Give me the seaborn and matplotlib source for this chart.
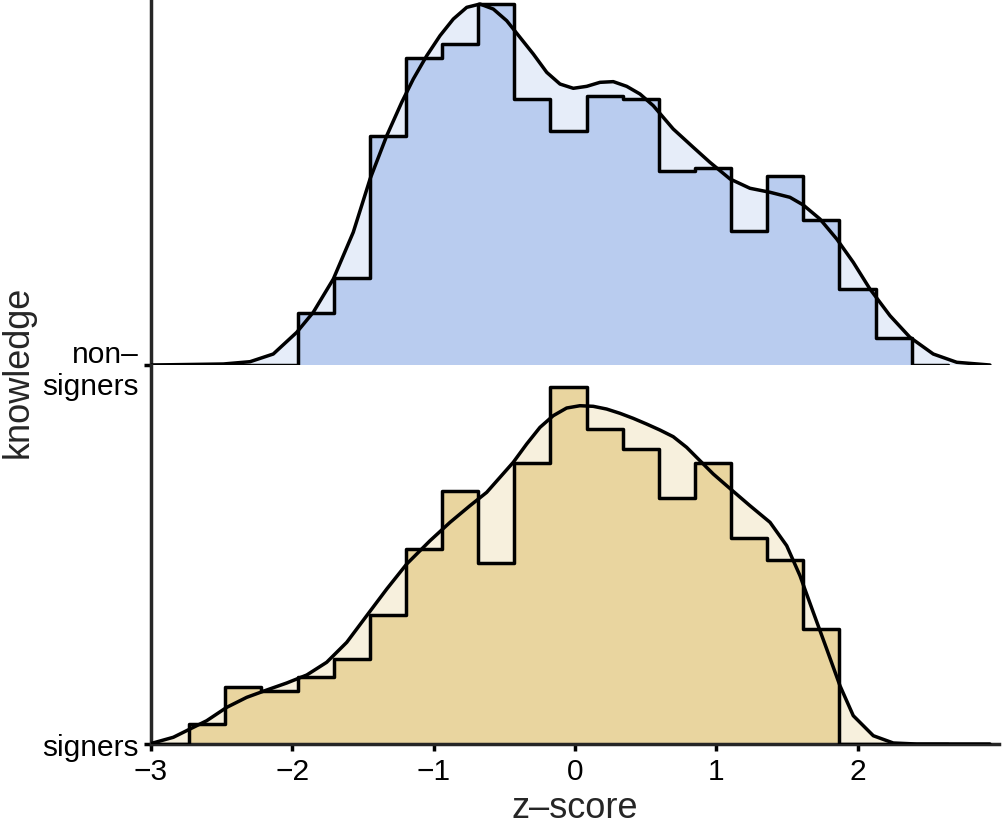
import numpy as np
import pandas as pd
import matplotlib
matplotlib.use("Agg")
import matplotlib.pyplot as plt
import seaborn as sns

# ── Data ────────────────────────────────────────────────────────────────────
# shared histogram bins, z-score units (first bin is an empty pad bin)
bin_start = -2.985
bin_width = 0.2556
n_bins = 22
bin_edges = [round(bin_start + bin_width * i, 4) for i in range(n_bins + 1)]

# histogram densities per bin
nonsigners_hist = [0, 0, 0, 0, 0.061, 0.102, 0.268, 0.360, 0.376, 0.423, 0.312,
                   0.274, 0.315, 0.312, 0.227, 0.231, 0.157, 0.222, 0.170, 0.089,
                   0.032, 0]
signers_hist = [0, 0.023, 0.067, 0.062, 0.079, 0.100, 0.151, 0.229, 0.297, 0.212,
                0.329, 0.419, 0.369, 0.346, 0.289, 0.329, 0.241, 0.216, 0.135,
                0, 0, 0]

# density curves
nonsigners_kde_x = [-3.0, -2.488, -2.299, -2.135, -1.969, -1.852, -1.710, -1.569,
                    -1.450, -1.332, -1.226, -1.144, -1.049, -0.955, -0.861, -0.766,
                    -0.672, -0.578, -0.483, -0.389, -0.295, -0.200, -0.106, -0.012,
                    0.083, 0.177, 0.271, 0.366, 0.460, 0.554, 0.695, 0.837, 0.955,
                    1.097, 1.238, 1.380, 1.521, 1.615, 1.733, 1.852, 1.969, 2.087,
                    2.229, 2.370, 2.535, 2.701, 2.936]
nonsigners_kde_y = [0.0, 0.0012, 0.0039, 0.0129, 0.0383, 0.0618, 0.1008, 0.1556,
                    0.2181, 0.2688, 0.3080, 0.3353, 0.3626, 0.3861, 0.4056, 0.4193,
                    0.4232, 0.4173, 0.4036, 0.3841, 0.3646, 0.3431, 0.3294, 0.3244,
                    0.3267, 0.3314, 0.3322, 0.3267, 0.3177, 0.3040, 0.2767, 0.2552,
                    0.2376, 0.2181, 0.2072, 0.2025, 0.1966, 0.1876, 0.1712, 0.1477,
                    0.1204, 0.0891, 0.0578, 0.0325, 0.0129, 0.0032, 0.0]

signers_kde_x = [-2.995, -2.842, -2.724, -2.606, -2.464, -2.323, -2.181, -2.040,
                 -1.898, -1.757, -1.615, -1.474, -1.332, -1.191, -1.026, -0.884,
                 -0.743, -0.625, -0.531, -0.437, -0.342, -0.248, -0.154, -0.059,
                 0.035, 0.129, 0.224, 0.318, 0.412, 0.507, 0.601, 0.695, 0.790,
                 0.884, 0.978, 1.073, 1.238, 1.380, 1.498, 1.592, 1.686, 1.781,
                 1.875, 1.969, 2.111, 2.252, 2.418, 2.936]
signers_kde_y = [0.0008, 0.0079, 0.0176, 0.0273, 0.0430, 0.0547, 0.0633, 0.0715,
                 0.0809, 0.0958, 0.1192, 0.1504, 0.1817, 0.2110, 0.2383, 0.2599,
                 0.2794, 0.2950, 0.3126, 0.3302, 0.3517, 0.3712, 0.3849, 0.3939,
                 0.3966, 0.3959, 0.3927, 0.3877, 0.3818, 0.3751, 0.3681, 0.3603,
                 0.3478, 0.3322, 0.3166, 0.3029, 0.2794, 0.2599, 0.2325, 0.1973,
                 0.1544, 0.1114, 0.0683, 0.0332, 0.0097, 0.0012, 0.0, 0.0]

groups = ["non–\nsigners", "signers"]
x_ticks = [-3, -2, -1, 0, 1, 2]

# ── Style ───────────────────────────────────────────────────────────────────
sns.set_style("ticks")
plt.rcParams['font.family'] = ['Liberation Sans', 'DejaVu Sans']
LW = 2.5
BLUE = '#b9ccef'
TAN = '#e9d59f'
PX_PER_DENSITY = 853  # vertical pixels per density unit

fig = plt.figure(figsize=(10.04, 8.37), dpi=100)
ax_top = fig.add_axes([0.1504, 0.5627, 0.8446, 0.4349])
ax_bot = fig.add_axes([0.1504, 0.1099, 0.8446, 0.4528], sharex=ax_top)


def draw_ridge(ax, hist_vals, kde_x, kde_y, color):
    df = pd.DataFrame({
        "center": [(a + b) / 2 for a, b in zip(bin_edges[:-1], bin_edges[1:])],
        "dens": hist_vals,
    })
    ax.fill_between(kde_x, kde_y, 0, color=color, alpha=0.35, lw=0, zorder=1)
    sns.histplot(data=df, x="center", weights="dens", bins=bin_edges,
                 element="step", fill=True, color=color, alpha=1, linewidth=0,
                 ax=ax, zorder=2)
    sns.histplot(data=df, x="center", weights="dens", bins=bin_edges,
                 element="step", fill=False, color="black", linewidth=LW,
                 ax=ax, zorder=3)
    sns.lineplot(x=kde_x, y=kde_y, color="black", linewidth=LW, ax=ax,
                 sort=False, estimator=None, zorder=4,
                 solid_joinstyle='round', solid_capstyle='round')
    ax.set_xlabel("")
    ax.set_ylabel("")


draw_ridge(ax_top, nonsigners_hist, nonsigners_kde_x, nonsigners_kde_y, BLUE)
draw_ridge(ax_bot, signers_hist, signers_kde_x, signers_kde_y, TAN)

ax_top.set_xlim(-3, 3)
ax_top.set_ylim(0, 364 / PX_PER_DENSITY)
ax_bot.set_ylim(0, 379 / PX_PER_DENSITY)

for ax in (ax_top, ax_bot):
    ax.spines[['top', 'right']].set_visible(False)
    for s in ax.spines.values():
        s.set_linewidth(LW)
    ax.tick_params(length=5, width=LW, labelsize=21.5, pad=4, colors='black')
    ax.set_yticks([0])

ax_top.spines['bottom'].set_visible(False)
ax_top.tick_params(axis='x', bottom=False, labelbottom=False)
ax_top.set_yticklabels([groups[0]])
ax_bot.set_yticklabels([groups[1]])
ax_bot.set_xticks(x_ticks)
ax_bot.set_xlabel("z–score", fontsize=26, labelpad=4)

fig.text(0.018, 0.5556, "knowledge", rotation=90, ha='center', va='center',
         fontsize=26)

plt.savefig("out.png", dpi=100)
